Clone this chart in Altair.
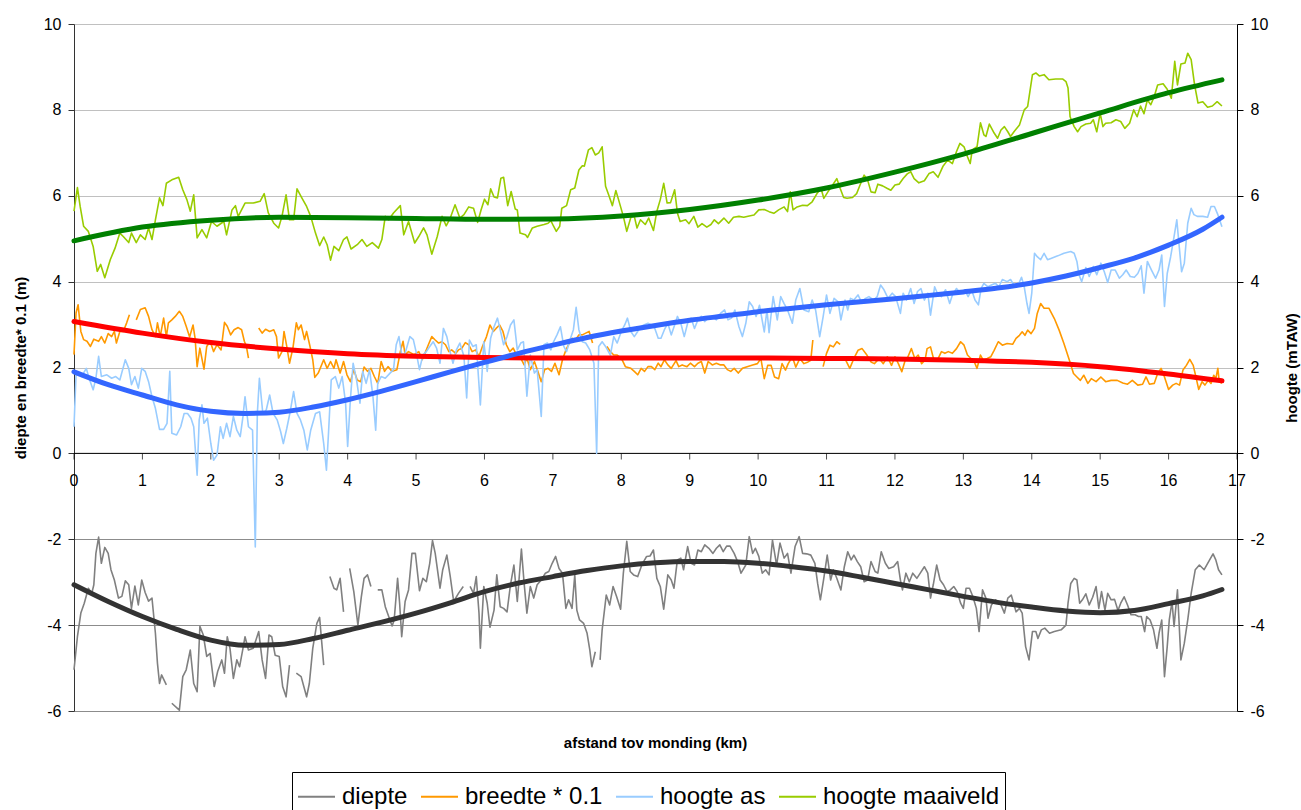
import altair as alt
import pandas as pd

# ---------------- data (km, value); None marks a gap in the measured series ----------------
diepte = [
    (0.00,-5.04),(0.05,-4.27),(0.10,-3.72),(0.15,-3.49),(0.21,-3.14),(0.26,-3.26),(0.29,-3.06),(0.32,-2.33),
    (0.36,-1.95),(0.40,-2.56),(0.45,-2.19),(0.50,-2.33),(0.54,-2.71),(0.59,-2.95),(0.65,-3.37),(0.70,-3.33),
    (0.75,-2.97),(0.80,-3.06),(0.84,-3.61),(0.89,-3.09),(0.94,-3.53),(0.99,-2.95),(1.04,-3.24),(1.09,-3.44),
    (1.14,-3.37),(1.19,-4.19),(1.22,-4.89),(1.25,-5.36),(1.28,-5.16),(1.35,-5.39),None,
    (1.43,-5.82),(1.54,-5.98),(1.59,-5.20),(1.64,-5.04),(1.70,-4.58),(1.75,-5.36),(1.80,-5.55),(1.84,-4.03),
    (1.89,-4.23),(1.94,-4.73),(1.99,-4.66),(2.05,-5.43),(2.10,-5.08),(2.16,-4.81),(2.20,-5.12),(2.24,-4.27),
    (2.28,-4.54),(2.33,-5.24),(2.38,-4.81),(2.42,-4.97),(2.47,-4.54),(2.50,-4.27),(2.55,-4.58),(2.62,-4.54),
    (2.70,-4.15),(2.75,-4.81),(2.80,-5.24),(2.85,-4.23),(2.89,-4.27),(2.94,-4.70),(3.00,-4.73),(3.05,-5.43),
    (3.10,-5.67),(3.15,-4.93),None,
    (3.25,-5.12),(3.32,-5.20),(3.40,-5.67),(3.44,-5.36),(3.49,-4.54),(3.55,-3.96),(3.59,-3.82),(3.65,-4.93),None,
    (3.74,-2.87),(3.80,-3.14),(3.84,-3.18),(3.89,-2.91),(3.94,-3.69),None,
    (4.03,-2.68),(4.09,-3.22),(4.15,-4.00),(4.20,-3.34),(4.24,-2.91),(4.29,-2.83),(4.34,-3.10),None,
    (4.44,-3.18),(4.50,-3.18),(4.55,-3.57),(4.60,-3.80),(4.65,-4.02),(4.68,-3.88),(4.73,-2.91),(4.76,-3.49),
    (4.79,-4.27),(4.84,-3.45),(4.89,-3.18),(4.94,-2.33),(4.99,-2.33),(5.05,-3.20),(5.10,-2.91),(5.15,-2.99),
    (5.20,-2.56),(5.24,-2.03),(5.28,-2.33),(5.35,-3.14),(5.39,-2.71),(5.45,-2.37),(5.50,-2.87),(5.55,-3.45),
    (5.62,-3.26),(5.69,-3.10),None,
    (5.79,-3.10),(5.84,-3.26),(5.88,-2.87),(5.92,-3.72),(5.94,-4.54),(5.99,-3.10),(6.04,-3.49),(6.08,-4.05),
    (6.14,-3.65),(6.18,-2.83),(6.23,-3.57),(6.28,-3.61),(6.33,-3.69),(6.38,-3.06),(6.43,-2.60),(6.48,-3.45),
    (6.54,-2.23),(6.58,-3.03),(6.62,-3.72),(6.67,-3.10),(6.72,-3.37),(6.77,-3.06),(6.83,-2.95),(6.89,-2.79),
    (6.94,-2.75),(6.99,-2.56),(7.04,-2.40),(7.09,-2.68),(7.14,-2.79),(7.19,-3.61),(7.23,-3.41),(7.28,-3.61),
    (7.32,-2.83),(7.35,-3.65),(7.39,-3.88),(7.45,-3.96),(7.50,-4.19),(7.54,-4.58),(7.57,-4.97),(7.62,-4.62),None,
    (7.69,-4.81),(7.72,-4.11),(7.78,-3.30),(7.83,-3.53),(7.88,-3.10),(7.93,-3.33),(7.99,-3.63),(8.03,-2.79),
    (8.08,-2.05),(8.13,-2.75),(8.18,-2.83),(8.24,-2.87),(8.30,-2.60),(8.37,-2.40),(8.42,-2.39),(8.47,-2.25),
    (8.52,-2.91),(8.57,-3.10),(8.62,-3.63),(8.68,-2.83),(8.73,-2.95),(8.77,-3.14),(8.82,-2.48),(8.87,-2.44),
    (8.91,-2.71),(8.97,-2.17),(9.02,-2.56),(9.07,-2.60),(9.12,-2.25),(9.17,-2.29),(9.22,-2.13),(9.28,-2.21),
    (9.34,-2.33),(9.39,-2.21),(9.44,-2.13),(9.49,-2.29),(9.54,-2.16),(9.59,-2.16),(9.65,-2.33),(9.70,-2.52),
    (9.75,-2.79),(9.82,-2.60),(9.87,-1.94),(9.92,-2.33),(9.96,-2.21),(10.01,-2.40),(10.06,-2.79),(10.11,-2.71),
    (10.16,-2.83),(10.21,-2.02),(10.27,-2.60),(10.32,-2.09),(10.38,-2.44),(10.43,-2.33),(10.48,-2.79),(10.54,-2.17),
    (10.60,-1.94),(10.65,-2.33),(10.71,-2.34),(10.77,-2.37),(10.83,-2.56),(10.87,-3.03),(10.91,-3.41),(10.96,-2.91),
    (11.01,-2.37),(11.06,-2.95),(11.10,-2.71),(11.15,-2.91),(11.21,-3.18),(11.26,-2.64),(11.31,-2.29),(11.36,-2.48),
    (11.40,-2.37),(11.45,-2.52),(11.50,-2.64),(11.55,-2.99),(11.60,-2.95),(11.65,-2.52),(11.71,-2.75),(11.75,-2.79),
    (11.80,-2.29),(11.86,-2.56),(11.91,-2.68),(11.98,-2.64),(12.04,-2.52),(12.08,-2.95),(12.11,-3.18),(12.16,-2.79),
    (12.21,-2.99),(12.26,-2.79),(12.32,-2.91),(12.37,-2.79),(12.43,-2.64),(12.48,-2.79),(12.52,-3.37),(12.56,-3.06),
    (12.61,-2.60),(12.66,-2.95),(12.71,-3.06),(12.76,-3.22),(12.81,-3.18),(12.86,-3.10),(12.91,-3.22),(12.96,-3.49),
    (13.00,-3.61),(13.04,-3.14),(13.09,-3.14),(13.14,-3.34),(13.19,-3.61),(13.23,-4.15),(13.28,-3.18),(13.33,-3.37),
    (13.36,-3.84),(13.41,-3.53),(13.47,-3.41),(13.54,-3.49),(13.60,-3.72),(13.65,-3.37),(13.70,-3.30),(13.77,-3.69),
    (13.82,-3.61),(13.86,-3.72),(13.91,-4.50),(13.96,-4.81),(14.01,-4.15),(14.06,-4.15),(14.09,-4.31),(14.14,-4.11),
    (14.19,-4.07),(14.26,-4.19),(14.33,-4.15),(14.43,-4.11),(14.50,-4.00),(14.53,-3.49),(14.57,-3.03),(14.62,-2.91),
    (14.66,-2.95),(14.70,-3.49),(14.74,-3.41),(14.79,-3.27),(14.84,-3.53),(14.89,-3.35),(14.94,-3.10),(14.98,-3.61),
    (15.02,-3.22),(15.07,-3.65),(15.11,-3.26),(15.16,-3.41),(15.21,-3.40),(15.26,-3.66),(15.30,-3.49),(15.35,-3.34),
    (15.40,-3.53),(15.45,-3.76),(15.51,-3.76),(15.56,-3.80),(15.60,-3.80),(15.65,-4.15),(15.68,-3.80),(15.73,-3.88),
    (15.78,-4.11),(15.83,-4.54),(15.86,-4.19),(15.90,-3.88),(15.94,-5.20),(15.98,-4.50),(16.01,-3.88),(16.05,-3.45),
    (16.08,-4.03),(16.13,-3.18),(16.18,-4.81),(16.23,-4.42),(16.28,-3.88),(16.33,-3.26),(16.39,-2.71),(16.45,-2.60),
    (16.52,-2.71),(16.60,-2.48),(16.65,-2.34),(16.69,-2.48),(16.73,-2.71),(16.78,-2.83),
]

breedte = [
    (0.00,2.30),(0.03,3.27),(0.06,3.46),(0.10,2.84),(0.14,2.65),(0.19,2.61),(0.24,2.49),(0.29,2.66),(0.36,2.61),
    (0.40,2.72),(0.45,2.57),(0.50,2.79),(0.55,2.72),(0.59,2.84),(0.62,2.57),(0.67,2.84),(0.72,2.84),(0.77,3.04),
    (0.81,3.23),None,
    (0.91,3.11),(0.97,3.35),(1.04,3.39),(1.09,3.19),(1.14,2.88),(1.19,2.72),(1.22,3.04),(1.26,2.72),(1.31,3.15),
    (1.35,2.72),(1.38,3.04),(1.43,3.11),(1.48,3.19),(1.54,3.31),(1.59,3.19),(1.64,2.96),(1.69,2.71),(1.74,2.99),
    (1.77,2.68),(1.80,2.02),(1.84,2.45),(1.90,1.96),(1.94,2.49),(1.99,2.61),(2.04,2.37),(2.09,2.53),(2.15,2.41),
    (2.20,3.05),(2.24,2.96),(2.29,2.76),(2.34,2.88),(2.40,2.93),(2.45,2.88),(2.49,2.61),(2.52,2.49),(2.55,2.22),None,
    (2.70,2.92),(2.75,2.80),(2.80,2.89),(2.86,2.84),(2.92,2.88),(2.96,2.72),(2.99,2.22),(3.04,2.37),(3.07,2.84),
    (3.11,2.49),(3.15,2.10),(3.20,2.45),(3.25,3.04),(3.28,2.88),(3.32,2.99),(3.37,2.65),(3.40,2.84),(3.45,2.49),
    (3.49,2.18),(3.52,1.77),(3.57,1.87),(3.65,2.18),(3.70,1.98),(3.75,2.14),(3.80,1.98),(3.83,2.18),(3.89,1.87),
    (3.94,2.14),(3.99,1.83),(4.04,1.67),(4.09,1.95),(4.14,1.71),(4.19,1.67),(4.24,2.01),(4.29,1.91),(4.34,1.98),
    (4.39,1.79),(4.44,1.63),(4.49,2.14),(4.54,1.91),(4.59,2.02),(4.65,1.91),(4.72,1.95),(4.77,2.37),(4.81,2.61),
    (4.84,2.30),(4.89,2.37),(4.97,2.30),(5.04,2.37),(5.09,2.18),(5.14,2.37),(5.18,2.53),(5.23,2.72),(5.28,2.64),
    (5.33,2.57),(5.38,2.60),(5.43,2.53),(5.48,2.37),(5.52,2.41),(5.58,2.33),(5.62,2.41),(5.67,2.45),(5.72,2.58),
    (5.77,2.53),(5.82,2.37),(5.87,2.41),(5.92,2.26),(5.97,2.49),(6.03,2.72),(6.08,2.99),(6.13,2.84),(6.17,2.91),
    (6.22,2.99),(6.27,2.84),(6.32,2.53),(6.37,2.37),(6.42,2.45),(6.47,2.29),(6.53,2.22),(6.58,2.06),(6.62,2.22),
    (6.67,1.95),(6.73,2.14),(6.78,1.91),(6.83,1.67),(6.88,1.95),(6.93,1.98),(6.98,1.91),(7.03,2.10),(7.09,1.83),
    (7.14,2.18),(7.19,2.41),(7.23,2.53),(7.28,2.68),(7.33,2.64),(7.38,2.76),(7.43,2.76),(7.48,2.80),(7.53,2.84),
    (7.58,2.57),None,
    (7.79,2.49),(7.84,2.37),(7.89,2.29),(7.94,2.29),(8.00,2.22),(8.06,2.02),(8.14,1.98),(8.19,1.91),(8.24,1.83),
    (8.29,1.98),(8.34,1.91),(8.39,2.02),(8.44,2.02),(8.49,1.95),(8.54,2.10),(8.58,2.02),(8.63,2.18),(8.68,2.06),
    (8.73,1.98),(8.80,2.16),(8.84,2.02),(8.89,2.06),(8.96,2.02),(9.01,2.10),(9.07,2.02),(9.12,2.10),(9.17,2.14),
    (9.22,1.87),(9.27,2.14),(9.33,2.06),(9.39,2.10),(9.45,2.06),(9.50,2.06),(9.55,1.95),(9.60,1.91),(9.65,1.98),
    (9.71,1.87),(9.77,1.98),(9.84,2.02),(9.92,2.06),(9.99,2.09),(10.04,2.21),(10.09,1.74),(10.14,2.05),(10.19,2.05),
    (10.24,1.78),(10.30,1.74),(10.35,2.09),(10.40,1.94),(10.44,2.09),(10.50,2.25),(10.55,2.01),(10.61,2.21),
    (10.67,2.09),(10.73,2.13),(10.77,2.17),(10.80,2.64),None,
    (10.95,2.02),(11.00,2.33),(11.05,2.52),(11.10,2.48),(11.15,2.60),(11.20,2.54),None,
    (11.28,2.17),(11.34,1.98),(11.40,2.21),(11.46,2.40),(11.52,2.44),(11.59,2.29),(11.65,2.13),(11.70,2.09),
    (11.77,2.21),(11.83,2.09),(11.89,2.25),(11.95,2.05),(12.00,2.25),(12.05,2.09),(12.10,1.90),(12.15,2.17),
    (12.19,2.25),(12.24,2.44),(12.29,2.21),(12.34,2.29),(12.39,2.09),(12.44,2.17),(12.47,2.44),(12.52,2.48),
    (12.57,2.17),(12.62,2.17),(12.68,2.37),(12.73,2.33),(12.78,2.37),(12.84,2.33),(12.90,2.44),(12.96,2.60),
    (13.01,2.52),(13.06,2.29),(13.11,2.21),(13.15,2.17),(13.20,1.98),(13.25,2.29),(13.29,2.17),(13.35,2.21),
    (13.40,2.25),(13.45,2.40),(13.51,2.60),(13.57,2.52),(13.64,2.56),(13.72,2.54),(13.77,2.68),(13.82,2.75),
    (13.86,2.83),(13.90,2.75),(13.94,2.87),(13.99,2.79),(14.04,2.91),(14.08,3.26),(14.13,3.49),(14.18,3.38),
    (14.25,3.38),(14.33,3.14),(14.40,2.87),(14.47,2.56),(14.55,2.17),(14.61,1.86),(14.66,1.78),(14.71,1.70),
    (14.76,1.82),(14.82,1.63),(14.87,1.74),(14.94,1.67),(15.01,1.78),(15.08,1.67),(15.16,1.70),(15.25,1.70),
    (15.33,1.64),(15.40,1.61),(15.47,1.70),(15.55,1.59),(15.62,1.61),(15.67,1.78),(15.72,1.61),(15.79,1.63),
    (15.84,1.86),(15.89,1.98),(15.94,1.78),(16.00,1.49),(16.06,1.59),(16.11,1.63),(16.16,1.59),(16.21,1.94),
    (16.26,2.05),(16.31,2.19),(16.36,2.05),(16.40,1.78),(16.44,1.49),(16.49,1.67),(16.53,1.59),(16.58,1.70),
    (16.62,1.63),(16.66,1.82),(16.69,1.74),(16.72,1.98),(16.74,1.67),(16.78,1.63),
]

hoogte_as = [
    (0.00,0.62),(0.03,1.83),(0.06,1.87),(0.11,1.79),(0.18,1.98),(0.22,1.75),(0.28,1.48),(0.32,1.75),(0.36,2.26),
    (0.40,1.79),(0.48,1.83),(0.55,1.75),(0.61,1.79),(0.67,1.71),(0.75,2.18),(0.80,1.98),(0.84,1.60),(0.89,1.79),
    (0.94,1.52),(0.99,1.98),(1.04,1.91),(1.09,1.67),(1.14,1.32),(1.19,1.05),(1.25,0.56),(1.31,0.56),(1.36,0.70),
    (1.40,1.91),(1.43,0.47),(1.50,0.43),(1.56,0.62),(1.61,0.93),(1.66,0.93),(1.71,0.82),(1.75,0.62),(1.80,-0.51),
    (1.83,0.78),(1.87,1.13),(1.90,0.70),(1.95,0.82),(2.00,0.23),(2.04,-0.16),(2.09,-0.04),(2.14,0.62),(2.18,0.35),
    (2.23,0.70),(2.28,0.39),(2.33,0.86),(2.38,0.54),(2.43,0.39),(2.47,0.86),(2.50,1.32),(2.55,0.62),(2.61,0.54),
    (2.65,-2.18),(2.68,0.93),(2.71,1.75),(2.76,0.93),(2.81,1.01),(2.86,1.36),(2.91,0.93),(2.97,0.78),(3.02,0.51),
    (3.06,0.23),(3.11,0.58),(3.16,0.97),(3.21,1.44),(3.26,0.93),(3.31,0.78),(3.36,0.54),(3.41,0.08),(3.46,0.54),
    (3.53,0.93),(3.59,0.97),(3.65,0.23),(3.69,-0.39),(3.72,0.47),(3.76,1.71),(3.82,1.79),(3.87,1.52),(3.92,1.79),
    (3.97,1.17),(4.00,0.16),(4.04,1.25),(4.08,2.10),(4.13,1.71),(4.18,1.17),(4.22,1.91),(4.27,1.63),(4.32,1.95),
    (4.37,1.32),(4.41,0.54),(4.44,1.63),(4.49,1.79),(4.55,1.75),(4.62,1.87),(4.67,1.95),(4.71,2.53),(4.75,2.72),
    (4.79,2.30),(4.84,2.33),(4.91,2.72),(4.96,2.65),(5.00,2.37),(5.05,1.95),(5.10,2.29),(5.15,2.37),(5.20,2.49),
    (5.25,2.60),(5.30,2.45),(5.35,2.10),(5.40,2.91),(5.45,2.72),(5.49,2.41),(5.54,2.10),(5.59,2.41),(5.64,2.57),
    (5.70,2.26),(5.74,1.29),(5.78,2.64),(5.83,2.49),(5.88,2.53),(5.94,1.13),(5.99,2.60),(6.04,1.91),(6.09,2.68),
    (6.14,2.95),(6.19,3.15),(6.23,2.88),(6.28,2.53),(6.33,2.72),(6.38,2.99),(6.43,3.11),(6.48,2.41),(6.53,2.57),
    (6.57,2.60),(6.62,1.33),(6.67,2.29),(6.73,1.87),(6.77,1.95),(6.83,0.86),(6.87,2.53),(6.92,2.57),(6.97,2.41),
    (7.01,2.60),(7.06,2.76),(7.11,2.95),(7.16,2.49),(7.20,2.37),(7.25,2.64),(7.30,2.88),(7.34,3.40),(7.38,2.88),
    (7.43,2.60),(7.48,2.57),(7.54,2.41),(7.60,2.10),(7.64,0.00),(7.67,2.49),(7.72,2.60),(7.77,2.49),(7.84,2.29),
    (7.89,2.72),(7.94,2.57),(8.00,2.84),(8.05,2.99),(8.09,3.15),(8.14,2.84),(8.19,2.72),(8.24,2.84),(8.28,2.95),
    (8.33,2.99),(8.39,3.03),(8.44,2.99),(8.49,2.91),(8.54,2.68),(8.58,2.68),(8.63,2.88),(8.68,3.03),(8.73,2.76),
    (8.78,2.99),(8.82,3.19),(8.87,3.03),(8.92,2.72),(8.97,3.03),(9.02,3.15),(9.07,2.91),(9.12,3.11),(9.17,3.19),
    (9.22,3.07),(9.27,3.15),(9.33,3.19),(9.39,3.11),(9.45,3.26),(9.51,3.34),(9.56,3.11),(9.61,3.15),(9.66,3.34),
    (9.72,2.95),(9.77,2.72),(9.82,3.03),(9.87,3.53),(9.92,3.42),(9.97,3.19),(10.02,3.45),(10.09,2.83),(10.13,3.34),
    (10.16,2.81),(10.22,3.65),(10.28,3.11),(10.33,3.65),(10.38,3.49),(10.43,3.34),(10.50,3.03),(10.55,3.57),
    (10.61,3.84),(10.67,3.34),(10.74,3.30),(10.79,3.57),(10.84,3.34),(10.90,2.72),(10.95,3.18),(11.00,3.69),
    (11.05,3.26),(11.11,3.61),(11.17,3.53),(11.21,3.11),(11.27,3.57),(11.31,3.34),(11.35,3.61),(11.40,3.57),
    (11.46,3.69),(11.51,3.53),(11.57,3.61),(11.62,3.65),(11.69,3.57),(11.74,3.65),(11.79,3.92),(11.84,3.81),
    (11.90,3.61),(11.96,3.73),(12.01,3.65),(12.08,3.26),(12.12,3.73),(12.17,3.57),(12.23,3.84),(12.28,3.49),
    (12.33,3.77),(12.38,3.84),(12.43,3.57),(12.48,3.73),(12.52,3.22),(12.58,3.88),(12.62,3.73),(12.68,3.65),
    (12.74,3.81),(12.80,3.49),(12.84,3.69),(12.90,3.84),(12.96,3.73),(13.02,3.81),(13.07,3.65),(13.12,3.81),
    (13.17,3.57),(13.22,3.46),(13.26,3.84),(13.30,3.96),(13.36,3.88),(13.41,3.92),(13.47,3.96),(13.52,3.88),
    (13.57,4.05),(13.64,4.00),(13.69,4.05),(13.74,3.92),(13.79,3.88),(13.85,4.10),(13.89,3.88),(13.93,3.49),
    (13.96,3.26),(14.00,3.73),(14.04,4.66),(14.08,4.58),(14.13,4.51),(14.18,4.66),(14.23,4.51),(14.28,4.54),
    (14.38,4.60),(14.47,4.66),(14.57,4.70),(14.62,4.66),(14.66,4.47),(14.69,4.16),(14.73,4.00),(14.79,4.33),
    (14.84,4.12),(14.90,4.35),(14.95,4.16),(15.01,4.43),(15.06,4.23),(15.11,3.98),(15.16,4.27),(15.22,4.27),
    (15.28,4.08),(15.33,4.16),(15.38,4.27),(15.44,4.12),(15.50,4.10),(15.55,4.19),(15.60,4.37),(15.64,3.73),
    (15.69,4.47),(15.75,4.27),(15.81,4.08),(15.86,4.27),(15.90,4.62),(15.94,3.42),(15.98,4.19),(16.03,4.58),
    (16.08,5.05),(16.12,5.44),(16.16,4.74),(16.19,4.23),(16.23,4.43),(16.28,5.36),(16.33,5.71),(16.37,5.56),
    (16.42,5.52),(16.50,5.52),(16.57,5.50),(16.62,5.75),(16.67,5.75),(16.72,5.56),(16.78,5.28),
]

hoogte_maaiveld = [
    (0.00,5.64),(0.05,6.19),(0.09,5.75),(0.14,5.29),(0.21,5.17),(0.28,4.82),(0.34,4.24),(0.39,4.40),(0.45,4.09),
    (0.53,4.51),(0.60,4.78),(0.67,5.13),(0.72,5.05),(0.80,4.91),(0.84,5.13),(0.91,4.91),(0.97,5.09),(1.04,4.98),
    (1.09,5.25),(1.14,4.98),(1.19,5.44),(1.25,5.95),(1.30,5.77),(1.35,6.29),(1.43,6.37),(1.53,6.43),(1.59,6.14),
    (1.65,5.91),(1.70,5.64),(1.75,6.02),(1.80,5.02),(1.87,5.21),(1.94,5.02),(2.01,5.40),(2.09,5.29),(2.19,5.40),
    (2.23,5.09),(2.31,5.67),(2.36,5.77),(2.40,5.52),(2.50,5.83),(2.62,5.83),(2.72,5.87),(2.78,6.05),(2.84,5.60),
    (2.92,5.36),(2.99,5.25),(3.04,5.52),(3.10,6.02),(3.15,5.44),(3.21,5.44),(3.26,6.16),(3.33,5.95),(3.40,5.75),
    (3.46,5.52),(3.53,5.13),(3.59,4.84),(3.65,5.04),(3.70,4.86),(3.75,4.50),(3.80,4.82),(3.87,4.72),(3.94,4.98),
    (3.99,5.04),(4.05,4.76),(4.14,4.86),(4.21,4.98),(4.28,4.82),(4.36,4.91),(4.45,4.78),(4.50,4.98),(4.55,5.52),
    (4.60,5.44),(4.67,5.60),(4.77,5.77),(4.82,5.09),(4.89,5.40),(4.98,4.90),(5.04,5.05),(5.11,5.25),(5.16,5.09),
    (5.23,4.64),(5.31,5.05),(5.38,5.52),(5.44,5.30),(5.50,5.48),(5.57,5.79),(5.64,5.48),(5.70,5.56),(5.77,5.74),
    (5.84,5.71),(5.90,5.38),(5.95,5.67),(6.00,5.92),(6.05,5.79),(6.09,6.16),(6.14,5.97),(6.19,5.95),(6.24,6.41),
    (6.28,6.43),(6.34,5.77),(6.39,6.10),(6.45,5.69),(6.48,5.67),(6.52,5.13),(6.60,5.09),(6.63,5.03),(6.70,5.25),
    (6.77,5.29),(6.87,5.33),(6.93,5.36),(6.97,5.42),(7.01,5.29),(7.05,5.17),(7.10,5.29),(7.13,5.71),(7.20,5.77),
    (7.26,6.14),(7.32,6.18),(7.38,6.60),(7.43,6.70),(7.46,6.69),(7.52,7.07),(7.57,7.12),(7.62,6.95),(7.67,7.00),
    (7.72,7.14),(7.77,6.22),(7.82,6.00),(7.87,5.77),(7.92,6.12),(7.96,5.91),(8.03,5.52),(8.08,5.17),(8.14,5.50),
    (8.19,5.52),(8.23,5.25),(8.28,5.44),(8.35,5.33),(8.40,5.48),(8.47,5.19),(8.52,5.64),(8.57,5.91),(8.62,6.29),
    (8.67,5.83),(8.72,5.84),(8.78,6.14),(8.82,5.60),(8.86,5.40),(8.94,5.44),(8.99,5.35),(9.06,5.52),(9.12,5.27),
    (9.18,5.35),(9.25,5.27),(9.31,5.33),(9.36,5.44),(9.42,5.35),(9.50,5.48),(9.57,5.36),(9.64,5.50),(9.72,5.52),
    (9.79,5.50),(9.87,5.53),(9.94,5.55),(10.01,5.67),(10.09,5.68),(10.16,5.63),(10.23,5.59),(10.30,5.67),
    (10.38,5.74),(10.43,5.63),(10.47,6.09),(10.51,5.67),(10.57,5.74),(10.65,5.78),(10.72,5.77),(10.79,5.86),
    (10.86,6.05),(10.92,6.17),(10.96,5.94),(11.02,6.09),(11.09,6.25),(11.15,6.40),(11.20,6.17),(11.25,5.96),
    (11.30,5.94),(11.38,5.96),(11.44,6.05),(11.49,6.25),(11.55,6.48),(11.60,6.37),(11.65,6.09),(11.71,6.07),
    (11.75,6.27),(11.82,6.23),(11.89,6.17),(11.94,6.13),(12.00,6.25),(12.06,6.27),(12.12,6.40),(12.18,6.51),
    (12.23,6.56),(12.28,6.40),(12.35,6.30),(12.43,6.35),(12.50,6.52),(12.56,6.56),(12.63,6.43),(12.70,6.68),
    (12.77,6.83),(12.84,6.75),(12.90,7.03),(12.95,7.22),(13.01,7.14),(13.06,6.91),(13.10,6.75),(13.13,7.07),
    (13.20,7.14),(13.25,7.70),(13.30,7.42),(13.33,7.38),(13.38,7.67),(13.45,7.46),(13.50,7.34),(13.55,7.53),
    (13.60,7.61),(13.65,7.49),(13.69,7.38),(13.74,7.49),(13.82,7.65),(13.89,8.00),(13.94,8.08),(14.01,8.82),
    (14.06,8.86),(14.11,8.79),(14.18,8.82),(14.25,8.70),(14.35,8.72),(14.45,8.72),(14.50,8.66),(14.53,8.51),
    (14.56,7.84),(14.62,7.61),(14.67,7.49),(14.72,7.61),(14.79,7.67),(14.86,7.69),(14.90,7.77),(14.95,7.49),
    (15.00,7.92),(15.04,7.61),(15.08,7.69),(15.16,7.70),(15.23,7.77),(15.30,7.73),(15.36,7.57),(15.43,7.69),
    (15.49,8.00),(15.54,7.84),(15.59,8.09),(15.64,7.91),(15.69,8.23),(15.74,8.12),(15.79,8.31),(15.84,8.58),
    (15.92,8.61),(15.98,8.48),(16.04,8.27),(16.09,9.13),(16.13,8.58),(16.18,9.07),(16.24,9.09),(16.28,9.32),
    (16.33,9.17),(16.38,8.58),(16.43,8.16),(16.50,8.19),(16.57,8.06),(16.64,8.09),(16.71,8.19),(16.78,8.09),
]

# trend lines
trend_diepte = [(0,-3.06),(0.5,-3.45),(1,-3.80),(1.5,-4.10),(2,-4.35),(2.5,-4.47),(3,-4.45),(3.5,-4.31),(4,-4.12),
                (4.5,-3.93),(5,-3.72),(5.5,-3.48),(6,-3.22),(6.5,-3.02),(7,-2.87),(7.5,-2.73),(8,-2.62),(8.5,-2.55),
                (9,-2.52),(9.5,-2.52),(10,-2.56),(10.5,-2.64),(11,-2.74),(11.5,-2.88),(12,-3.03),(12.5,-3.18),
                (13,-3.33),(13.5,-3.47),(14,-3.58),(14.5,-3.67),(15,-3.71),(15.5,-3.66),(16,-3.50),(16.5,-3.32),(16.78,-3.17)]
trend_breedte = [(0,3.07),(1,2.80),(2,2.58),(3,2.43),(4,2.32),(5,2.26),(6,2.23),(7,2.22),(8,2.22),(9,2.22),(10,2.22),
                 (11,2.21),(12,2.20),(13,2.17),(14,2.12),(15,2.02),(16,1.85),(16.78,1.69)]
trend_as = [(0,1.90),(0.5,1.60),(1,1.36),(1.5,1.13),(2,0.98),(2.5,0.93),(3,0.96),(3.5,1.08),(4,1.25),(4.5,1.45),
            (5,1.67),(5.5,1.90),(6,2.12),(6.5,2.33),(7,2.52),(7.5,2.70),(8,2.85),(8.5,2.98),(9,3.10),(9.5,3.20),
            (10,3.30),(10.5,3.38),(11,3.46),(11.5,3.53),(12,3.60),(12.5,3.68),(13,3.76),(13.5,3.85),(14,3.97),
            (14.5,4.13),(15,4.33),(15.5,4.55),(16,4.85),(16.5,5.22),(16.78,5.50)]
trend_maaiveld = [(0,4.95),(1,5.27),(2,5.43),(3,5.50),(4,5.49),(5,5.47),(6,5.45),(7,5.46),(8,5.53),(9,5.68),
                  (10,5.90),(11,6.18),(12,6.55),(13,6.97),(14,7.45),(15,7.93),(16,8.40),(16.78,8.70)]

series_names = ["diepte", "breedte * 0.1", "hoogte as", "hoogte maaiveld"]
series_colors = ["#808080", "#ff9900", "#99ccff", "#99cc00"]
series_lists = [diepte, breedte, hoogte_as, hoogte_maaiveld]

trend_names = ["t1 diepte", "t2 maaiveld", "t3 breedte", "t4 as"]
trend_colors = ["#333333", "#008000", "#ff0000", "#3366ff"]
trend_lists = [trend_diepte, trend_maaiveld, trend_breedte, trend_as]

x_ticks = list(range(0, 18))
y_ticks = list(range(-6, 11, 2))

# ---------------- tables ----------------
rows = []
for name, pts in zip(series_names, series_lists):
    seg = 0
    for p in pts:
        if p is None:
            seg += 1
            continue
        rows.append({"serie": name, "seg": f"{name}|{seg}", "km": p[0], "v": p[1]})
data = pd.DataFrame(rows)

trows = []
for name, col, pts in zip(trend_names, trend_colors, trend_lists):
    for km, v in pts:
        trows.append({"trend": name, "col": col, "km": km, "v": v})
tdata = pd.DataFrame(trows)

xt = pd.DataFrame({"km": x_ticks, "v": [0] * len(x_ticks), "lab": [str(k) for k in x_ticks]})
zero_df = pd.DataFrame({"v": [0]})

# ---------------- chart ----------------
W, H = 1163, 687
FONT = "Liberation Sans"
xscale = alt.Scale(domain=[0, 17], nice=False, zero=False)
yscale = alt.Scale(domain=[-6, 10], nice=False, zero=False)

grid_color = {"condition": {"test": "datum.value < 0", "value": "#8c8c8c"}, "value": "#c0c0c0"}
hyphen_label = "'' + datum.value"

lines = alt.Chart(data).mark_line(strokeWidth=1.6, strokeJoin="round").encode(
    x=alt.X("km:Q", scale=xscale, axis=None),
    y=alt.Y("v:Q", scale=yscale,
            axis=alt.Axis(values=y_ticks, title="diepte en breedte* 0.1 (m)", grid=True, gridColor=grid_color,
                          gridWidth=1.2, tickSize=6, labelPadding=7, domainColor="#333333", tickColor="#333333",
                          labelFontSize=16, labelColor="#000000", labelFont=FONT, labelExpr=hyphen_label,
                          titleFont=FONT, titleFontSize=15, titleFontWeight="bold", titleColor="#000000",
                          titleX=-54, titleY=H / 2, titleAngle=270, titleAlign="center", titleBaseline="middle")),
    color=alt.Color("serie:N", scale=alt.Scale(domain=series_names, range=series_colors),
                    legend=alt.Legend(title=None, orient="none", legendX=218, legendY=748, direction="horizontal",
                                      symbolType="stroke", symbolSize=1369, symbolStrokeWidth=2,
                                      labelFontSize=24, labelFont=FONT, labelColor="#000000", labelLimit=400,
                                      labelOffset=6, columnPadding=9, strokeColor="#000000", padding=5)),
    detail="seg:N",
)

trends = alt.Chart(tdata).mark_line(strokeWidth=5, interpolate="monotone", strokeCap="round").encode(
    x=alt.X("km:Q", scale=xscale, axis=None),
    y=alt.Y("v:Q", scale=yscale,
            axis=alt.Axis(orient="right", values=y_ticks, title="hoogte (mTAW)", grid=False, tickSize=6,
                          labelPadding=7, domainColor="#000000", tickColor="#000000",
                          labelFontSize=16, labelColor="#000000", labelFont=FONT, labelExpr=hyphen_label,
                          titleFont=FONT, titleFontSize=15, titleFontWeight="bold", titleColor="#000000",
                          titleX=54, titleY=H / 2, titleAngle=270, titleAlign="center", titleBaseline="middle")),
    color=alt.Color("col:N", scale=None),
    detail="trend:N",
)

# x axis drawn at y = 0
x_line = alt.Chart(zero_df).mark_rule(color="#000000", strokeWidth=1).encode(
    y=alt.Y("v:Q", scale=yscale, axis=None))
x_tickmarks = alt.Chart(xt).mark_tick(orient="vertical", size=6, thickness=1, color="#000000", yOffset=3).encode(
    x=alt.X("km:Q", scale=xscale, axis=None), y=alt.Y("v:Q", scale=yscale, axis=None))
x_labels = alt.Chart(xt).mark_text(font=FONT, fontSize=16, color="#000000", baseline="middle", align="center",
                                   dy=28).encode(
    x=alt.X("km:Q", scale=xscale, axis=None), y=alt.Y("v:Q", scale=yscale, axis=None), text="lab:N")

xtitle = alt.Chart(pd.DataFrame({"t": ["afstand tov monding (km)"]})).mark_text(
    font=FONT, fontSize=15, fontWeight="bold", color="#000000", align="center", baseline="middle"
).encode(text="t:N", x=alt.value(W / 2), y=alt.value(719))

chart = alt.layer(x_line, lines, trends, x_tickmarks, x_labels, xtitle).resolve_scale(
    y="independent", color="independent"
).properties(
    width=W, height=H,
    padding={"left": 74, "top": 24, "right": 1301 - 74 - W, "bottom": 810 - 24 - H},
    autosize=alt.AutoSizeParams(type="none"),
    background="white",
).configure_view(stroke=None)

chart.save("out.html", embed_options={"renderer": "svg", "actions": False})
